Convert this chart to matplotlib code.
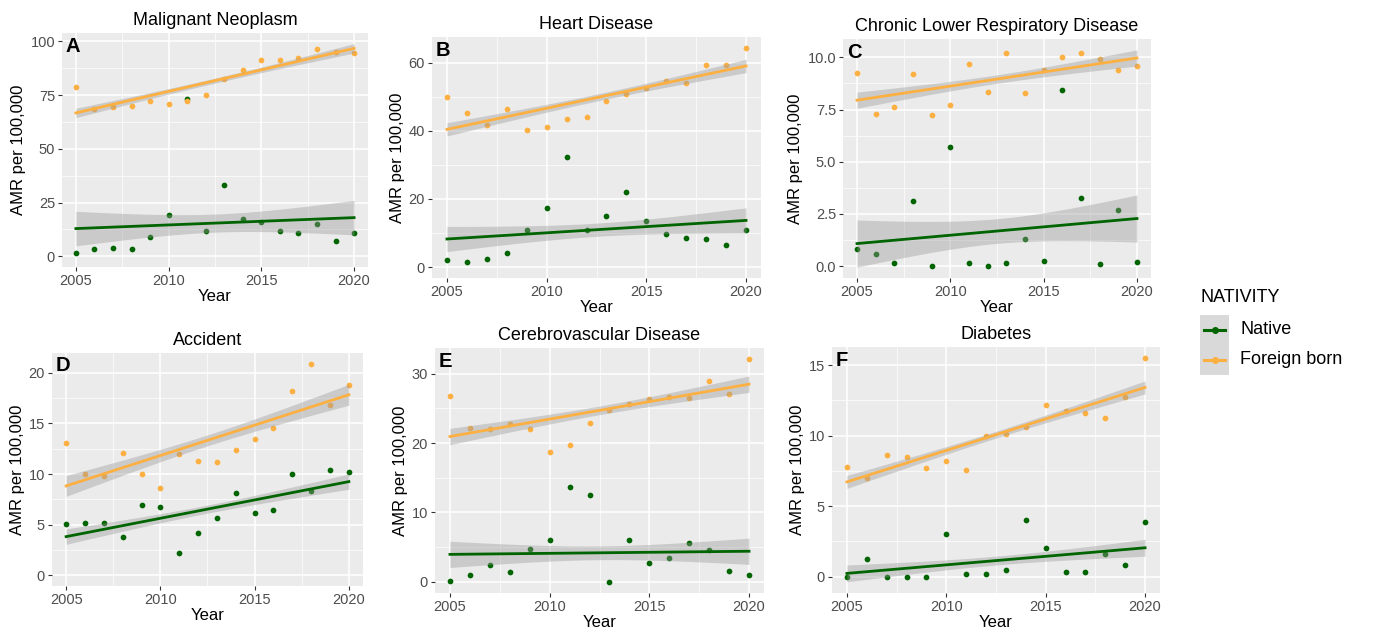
import numpy as np
import matplotlib
matplotlib.use("Agg")
import matplotlib.pyplot as plt
from matplotlib.ticker import FixedLocator, FormatStrFormatter
from matplotlib.lines import Line2D
from matplotlib.patches import Rectangle

plt.rcParams['font.family'] = ['Liberation Sans', 'DejaVu Sans']

years = np.arange(2005, 2021)

# values (AMR per 100,000)
neo_native = [1.5, 3.5, 4.0, 3.5, 9.0, 19.0, 73.0, 12.0, 33.2, 17.4, 15.8, 11.7, 11.0, 15.0, 7.0, 10.8]
neo_foreign = [78.9, 68.5, 69.2, 70.0, 72.3, 71.0, 72.3, 75.0, 82.6, 86.6, 91.5, 91.5, 92.0, 96.2, 95.0, 94.5]

heart_native = [2.0, 1.5, 2.3, 4.0, 10.8, 17.4, 32.4, 11.0, 14.9, 21.9, 13.4, 9.8, 8.4, 8.1, 6.4, 11.0]
heart_foreign = [50.0, 45.2, 41.8, 46.4, 40.2, 41.0, 43.5, 43.9, 48.6, 50.7, 52.6, 54.6, 54.0, 59.3, 59.3, 64.3]

clrd_native = [0.82, 0.57, 0.17, 3.1, 0.0, 5.7, 0.17, 0.0, 0.16, 1.28, 0.27, 8.45, 3.26, 0.11, 2.69, 0.19]
clrd_foreign = [9.26, 7.31, 7.63, 9.19, 7.25, 7.7, 9.67, 8.35, 10.2, 8.3, 9.4, 10.0, 10.22, 9.94, 9.38, 9.57]

acc_native = [5.1, 5.17, 5.17, 3.83, 6.97, 6.74, 2.23, 4.19, 5.7, 8.15, 6.15, 6.41, 9.98, 8.28, 10.4, 10.18]
acc_foreign = [13.1, 10.0, 9.8, 12.1, 10.05, 8.58, 12.0, 11.3, 11.2, 12.4, 13.5, 14.5, 18.2, 20.9, 16.8, 18.8]

cvd_native = [0.1, 0.96, 2.5, 1.4, 4.8, 6.1, 13.7, 12.5, 0.0, 6.0, 2.7, 3.5, 5.6, 4.6, 1.5, 1.05]
cvd_foreign = [26.8, 22.2, 22.1, 22.8, 22.1, 18.7, 19.7, 22.9, 24.8, 25.7, 26.4, 26.7, 26.5, 28.9, 27.1, 32.1]

diab_native = [0.0, 1.28, 0.0, 0.0, 0.0, 3.03, 0.19, 0.17, 0.5, 4.02, 2.01, 0.33, 0.33, 1.61, 0.83, 3.9]
diab_foreign = [7.8, 7.0, 8.66, 8.5, 7.69, 8.23, 7.55, 9.96, 10.13, 10.62, 12.18, 11.76, 11.59, 11.26, 12.73, 15.5]

titles = ["Malignant Neoplasm", "Heart Disease", "Chronic Lower Respiratory Disease",
          "Accident", "Cerebrovascular Disease", "Diabetes"]
letters = ["A", "B", "C", "D", "E", "F"]
yticks = [[0, 25, 50, 75, 100], [0, 20, 40, 60], [0, 2.5, 5, 7.5, 10],
          [0, 5, 10, 15, 20], [0, 10, 20, 30], [0, 5, 10, 15]]
panels = [(neo_native, neo_foreign), (heart_native, heart_foreign), (clrd_native, clrd_foreign),
          (acc_native, acc_foreign), (cvd_native, cvd_foreign), (diab_native, diab_foreign)]

# plot areas in pixels: left, top, right, bottom
boxes = [(62, 33, 368, 267), (432, 37, 761, 278), (843, 39, 1151, 278),
         (52, 353, 363, 586), (435, 348, 764, 593), (832, 347, 1160, 593)]

W, H = 1374, 630
green = "#006400"
orange = "#FDB042"
BAND = 0.95  # band half-width in standard errors (matches the look of the original)

fig = plt.figure(figsize=(W / 100, H / 100), dpi=100)


def fit(x, y):
    x = np.asarray(x, float)
    y = np.asarray(y, float)
    b, a = np.polyfit(x, y, 1)
    xs = np.linspace(x.min(), x.max(), 80)
    pred = a + b * xs
    resid = y - (a + b * x)
    s = np.sqrt(np.sum(resid ** 2) / (len(x) - 2))
    se = s * np.sqrt(1 / len(x) + (xs - x.mean()) ** 2 / np.sum((x - x.mean()) ** 2))
    return xs, pred, pred - BAND * se, pred + BAND * se


for i, (l, t, r, b) in enumerate(boxes):
    ax = fig.add_axes([l / W, 1 - b / H, (r - l) / W, (b - t) / H])
    ax.set_facecolor("#EBEBEB")
    for sp in ax.spines.values():
        sp.set_visible(False)
    native, foreign = panels[i]
    for vals, col in ((native, green), (foreign, orange)):
        ax.scatter(years, vals, s=17, color=col, zorder=2, linewidths=0)
        xs, pred, lo, hi = fit(years, vals)
        ax.fill_between(xs, lo, hi, color="#999999", alpha=0.4, linewidth=0, zorder=3)
        ax.plot(xs, pred, color=col, lw=2, zorder=4)
    # y range always reaches 0
    ax.plot([years[0]], [0], alpha=0)
    ax.margins(x=0.05, y=0.05)
    ax.xaxis.set_major_locator(FixedLocator([2005, 2010, 2015, 2020]))
    ax.xaxis.set_minor_locator(FixedLocator([2007.5, 2012.5, 2017.5]))
    yt = yticks[i]
    ax.yaxis.set_major_locator(FixedLocator(yt))
    step = yt[1] - yt[0]
    ax.yaxis.set_minor_locator(FixedLocator([v + step / 2 for v in yt[:-1]] + [yt[-1] + step / 2]))
    if i == 2:
        ax.yaxis.set_major_formatter(FormatStrFormatter("%.1f"))
    ax.grid(True, which="major", color="white", lw=1.1, zorder=0)
    ax.grid(True, which="minor", color="white", lw=0.5, zorder=0)
    ax.set_axisbelow(True)
    ax.tick_params(which="major", length=3, color="#333333", labelsize=10.5,
                   labelcolor="#4D4D4D", pad=2)
    ax.tick_params(which="minor", length=0)
    ax.set_xlabel("Year", fontsize=12, labelpad=1)
    ax.set_ylabel("AMR per 100,000", fontsize=12, labelpad=3)
    ax.set_title(titles[i], fontsize=13, pad=6)
    ax.text(0.012, 0.985, letters[i], transform=ax.transAxes, ha="left", va="top",
            fontsize=14.5, fontweight="bold")

# legend
fig.text(1200 / W, 1 - 298 / H, "NATIVITY", fontsize=13, va="center", ha="left")
fig.patches.append(Rectangle((1200 / W, 1 - 375 / H), 29 / W, 60 / H,
                             transform=fig.transFigure, facecolor="#D9D9D9",
                             edgecolor="none"))
for yy, col, lab in ((330, green, "Native"), (360, orange, "Foreign born")):
    fig.lines.append(Line2D([1204 / W, 1225 / W], [1 - yy / H, 1 - yy / H],
                            transform=fig.transFigure, color=col, lw=2.2))
    fig.lines.append(Line2D([1214.5 / W], [1 - yy / H], transform=fig.transFigure,
                            color=col, marker="o", markersize=4, lw=0))
    fig.text(1240 / W, 1 - yy / H, lab, fontsize=13, va="center", ha="left")

fig.savefig("out.png", dpi=100)
